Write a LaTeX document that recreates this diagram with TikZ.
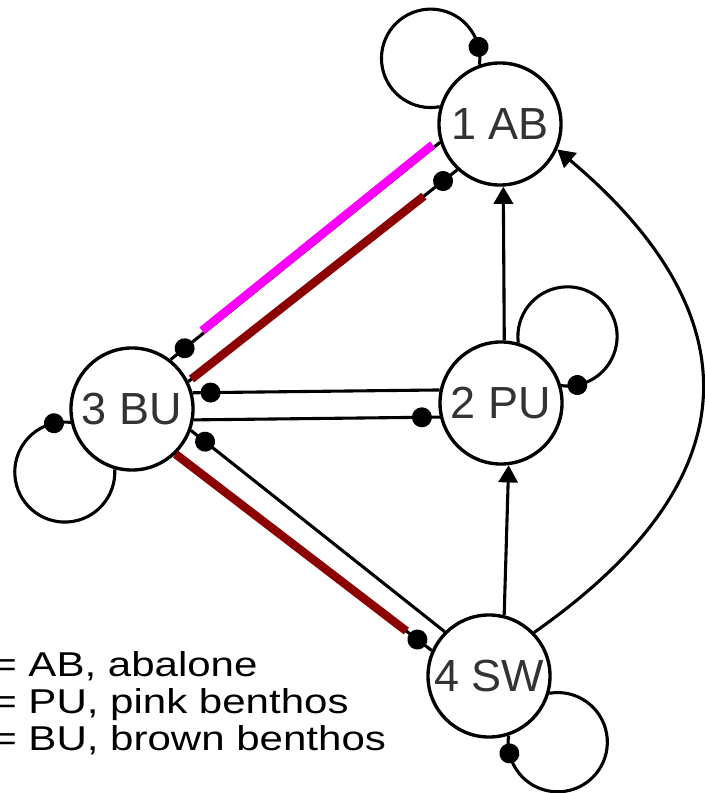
\documentclass[tikz,border=0pt]{standalone}
\usepackage{fontspec}
\setmainfont{Liberation Sans}
\usetikzlibrary{arrows.meta,decorations.markings}
\definecolor{pinkhl}{RGB}{255,0,255}
\definecolor{brownhl}{RGB}{139,0,0}

\begin{document}
\begin{tikzpicture}
[x=0.025cm,y=0.025cm,
 species/.style={circle,draw=black,line width=2.4pt,minimum size=3.05cm,inner sep=0pt,text=black!80,font=\fontsize{32pt}{36pt}\selectfont},
 link/.style={line width=2.2pt},
 posedge/.style={link,-{Triangle[length=0.43cm,width=0.48cm]}},
 negedge/.style={link,postaction={decorate,decoration={markings,mark=at position -0.45cm with {\fill (0,0) circle (0.25cm);}}}},
 hilite/.style={line width=6pt},
 legendtext/.style={anchor=base west,inner sep=0pt,font=\fontsize{24.5pt}{28pt}\selectfont}]

\useasboundingbox (0,0) rectangle (704,-793);

\node[species] (AB) at (500,-124) {1 AB};
\node[species] (PU) at (501,-403) {2 PU};
\node[species] (BU) at (132,-409) {3 BU};
\node[species] (SW) at (489,-676) {4 SW};

% self loops
\draw[negedge] (AB.164) arc[start angle=-79.4,end angle=-367.5,radius=1.23cm];
\draw[negedge] (PU.74) arc[start angle=187.3,end angle=-99.3,radius=1.24cm];
\draw[negedge] (BU.-106) arc[start angle=3.2,end angle=-278.1,radius=1.25cm];
\draw[negedge] (SW.-16) arc[start angle=99.8,end angle=-187.7,radius=1.24cm];

% positive links
\draw[posedge] (PU.87) -- (AB.-87);
\draw[posedge] (SW.76) -- (PU.-83);
\draw[posedge] (SW.44) .. controls +(35:320) and +(-40:200) .. (AB.-24);

% negative links
\draw[negedge] (AB.197) -- (BU.52);
\draw[negedge] (BU.26) -- (AB.227);
\draw[negedge] (PU.168) -- (BU.15);
\draw[negedge] (BU.-10) -- (PU.193);
\draw[negedge] (SW.135) -- (BU.-20);
\draw[negedge] (BU.-46) -- (SW.156);

% highlighted paths
\draw[hilite,pinkhl,shorten <=0.18cm,shorten >=1.07cm,transform canvas={shift={(-1.8,2.1)}}] (AB.197) -- (BU.52);
\draw[hilite,brownhl,shorten <=0.1cm,shorten >=1.06cm] (BU.26) -- (AB.227);
\draw[hilite,brownhl,shorten >=0.8cm] (BU.-46) -- (SW.156);

\node[legendtext] (l1) at (-8,-676) {\scalebox{1.22}[1]{= AB, abalone}};
\node[legendtext] (l2) at (-8,-713) {\scalebox{1.22}[1]{= PU, pink benthos}};
\node[legendtext] (l3) at (-8,-750) {\scalebox{1.22}[1]{= BU, brown benthos}};
\end{tikzpicture}
\end{document}
